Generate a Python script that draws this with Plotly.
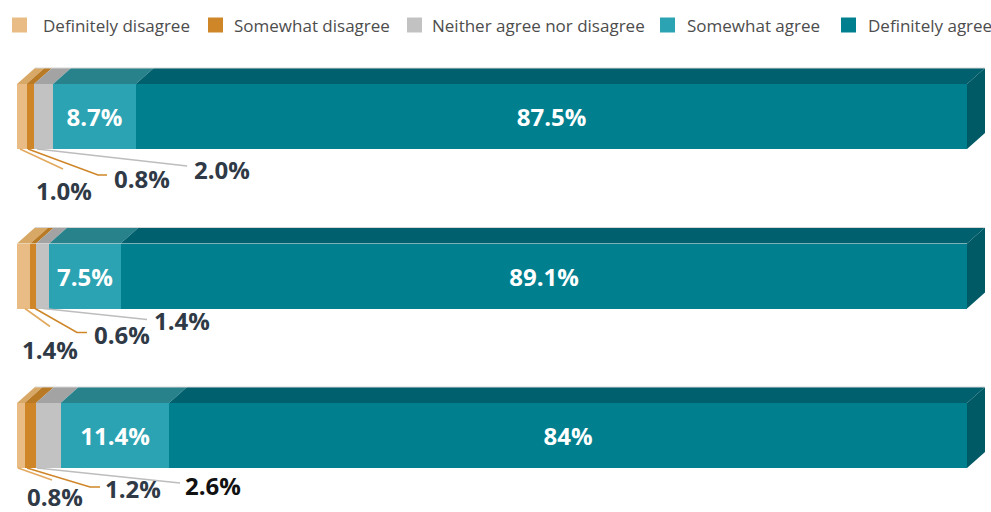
import plotly.graph_objects as go

# ---- data -------------------------------------------------------------
categories = ["Definitely disagree", "Somewhat disagree",
              "Neither agree nor disagree", "Somewhat agree", "Definitely agree"]
row_1 = [1.0, 0.8, 2.0, 8.7, 87.5]
row_2 = [1.4, 0.6, 1.4, 7.5, 89.1]
row_3 = [0.8, 1.2, 2.6, 11.4, 84.0]
row_labels = [
    ["1.0%", "0.8%", "2.0%", "8.7%", "87.5%"],
    ["1.4%", "0.6%", "1.4%", "7.5%", "89.1%"],
    ["0.8%", "1.2%", "2.6%", "11.4%", "84%"],
]
rows = [row_1, row_2, row_3]

# ---- style ------------------------------------------------------------
front = ["#e8bc84", "#cf8629", "#c2c2c2", "#2ba3b2", "#00808f"]
top = ["#d8a866", "#b97a25", "#a3a3a3", "#27828c", "#00606e"]
side = "#005a66"
lead = ["#e3a95e", "#cf8629", "#bdbdbd"]
label_dark = "#2f3a46"
FONT = "Open Sans"

W, H = 991, 512
PX_X = 9.5          # pixels per percentage point
PX_Y = 159.5        # pixels per row
X0_PX = 17          # pixel where 0% sits
ROW_Y = [2, 1, 0]   # row positions, first row on top
ROW3_PX = 435.5     # pixel centre of bottom row
BAR_H = 65 / PX_Y
DEPTH_X = 18 / PX_X
DEPTH_Y = 16 / PX_Y

x_range = [-X0_PX / PX_X, (W - X0_PX) / PX_X]
y_range = [-(H - ROW3_PX) / PX_Y, ROW_Y[0] + (ROW3_PX - 2 * PX_Y) / PX_Y]

# legend key placement in pixels: (square left, text left)
legend_pos = [(12, 41), (208, 232), (407, 430), (660, 685), (841, 866)]
LEGEND_Y = 25
KEY = 15

# callout geometry in pixels, per row, per small segment:
# (start inset, end dx, end dy, tail length, label dx, label dy, colour)
callouts = [
    [(3, 43, 20, 0, 44, 41, label_dark), (1.5, 70, 26, 9, 114, 29, label_dark),
     (3, 150, 17, 0, 185, 20, label_dark)],
    [(8, 25, 18, 0, 25, 41, label_dark), (4.7, 42, 24, 10, 87, 26, label_dark),
     (7, 104, 11, 0, 139, 12, label_dark)],
    [(1, 34, 12, 0, 37, 28, label_dark), (2.4, 63, 19, 10, 106, 20, label_dark),
     (1, 143, 15, 0, 176, 17, "#111111")],
]

fig = go.Figure()

for j, cat in enumerate(categories):
    vals = [r[j] for r in rows]
    texts = [row_labels[i][j] if rows[i][j] >= 5 else "" for i in range(3)]
    fig.add_trace(go.Bar(
        name=cat, orientation="h", x=vals, y=ROW_Y, width=BAR_H,
        marker=dict(color=front[j], line=dict(width=0)),
        text=texts, textposition="inside", insidetextanchor="middle",
        textfont=dict(color="white", size=24, family=FONT, weight="bold"),
        constraintext="none", hoverinfo="skip", showlegend=False,
    ))

shapes = []
annotations = []

# legend keys
for j, cat in enumerate(categories):
    sq, tx = legend_pos[j]
    shapes.append(dict(
        type="rect", xref="paper", yref="paper",
        x0=sq / W, x1=(sq + KEY) / W,
        y0=1 - (LEGEND_Y + KEY / 2) / H, y1=1 - (LEGEND_Y - KEY / 2) / H,
        fillcolor=front[j], line=dict(width=0),
    ))
    annotations.append(dict(
        x=tx / W, y=1 - LEGEND_Y / H, xref="paper", yref="paper",
        text=cat, showarrow=False, xanchor="left", yanchor="middle",
        font=dict(size=17, color="#4d4d4d", family=FONT),
    ))

for i, vals in enumerate(rows):
    yc = ROW_Y[i]
    y_top = yc + BAR_H / 2
    y_bot = yc - BAR_H / 2
    left = 0.0
    for j, v in enumerate(vals):
        right = left + v
        # top face of each segment
        shapes.append(dict(
            type="path", xref="x", yref="y", layer="above",
            path=(f"M{left},{y_top} L{right},{y_top} "
                  f"L{right + DEPTH_X},{y_top + DEPTH_Y} "
                  f"L{left + DEPTH_X},{y_top + DEPTH_Y} Z"),
            fillcolor=top[j], line=dict(width=0),
        ))
        left = right
    # right-hand end face
    shapes.append(dict(
        type="path", xref="x", yref="y", layer="above",
        path=(f"M{left},{y_bot} L{left},{y_top} "
              f"L{left + DEPTH_X},{y_top + DEPTH_Y} "
              f"L{left + DEPTH_X},{y_bot + DEPTH_Y} Z"),
        fillcolor=side, line=dict(width=0),
    ))
    # faint highlight on the back edge
    shapes.append(dict(
        type="line", xref="x", yref="y", layer="above",
        x0=DEPTH_X, x1=left + DEPTH_X, y0=y_top + DEPTH_Y, y1=y_top + DEPTH_Y,
        line=dict(color="#d6d6d6", width=1),
    ))

    # callouts for the three small segments
    seg_left = 0.0
    for j in range(3):
        inset, ex, ey, tail, lx, ly, col = callouts[i][j]
        sx = seg_left + inset / PX_X
        sy = y_bot
        bx = sx + ex / PX_X
        by = sy - ey / PX_Y
        path = f"M{sx},{sy} L{bx},{by}"
        if tail:
            path += f" L{bx + tail / PX_X},{by}"
        shapes.append(dict(type="path", xref="x", yref="y", layer="above",
                           path=path, line=dict(color=lead[j], width=1.6)))
        annotations.append(dict(
            x=sx + lx / PX_X, y=sy - ly / PX_Y, xref="x", yref="y",
            text=row_labels[i][j], showarrow=False,
            xanchor="center", yanchor="middle",
            font=dict(size=24, color=col, family=FONT, weight="bold"),
        ))
        seg_left += vals[j]

fig.update_layout(
    barmode="stack",
    width=W, height=H,
    margin=dict(l=0, r=0, t=0, b=0),
    paper_bgcolor="white", plot_bgcolor="white",
    bargap=0,
    xaxis=dict(range=x_range, visible=False, fixedrange=True),
    yaxis=dict(range=y_range, visible=False, fixedrange=True),
    showlegend=False,
    shapes=shapes,
    annotations=annotations,
)

fig.write_html("out.html")
